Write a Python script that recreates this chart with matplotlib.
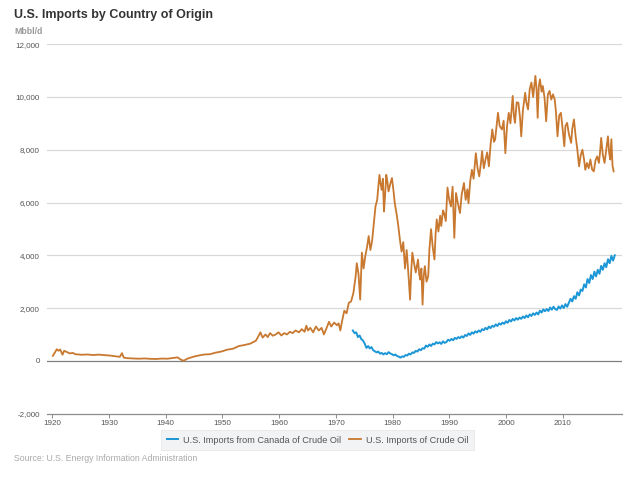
import matplotlib
matplotlib.use("Agg")
from matplotlib import pyplot as plt


plt.rcParams['font.family'] = ['Liberation Sans', 'DejaVu Sans']

ORANGE = '#c8782f'
BLUE = '#1b96d6'

# U.S. Imports of Crude Oil (year, Mbbl/d)
TOTAL_YEARS = [
    1920.1, 1920.5, 1920.8, 1921.1, 1921.4, 1921.8, 1922.1, 1922.6, 1923.1, 1923.6,
    1924.1, 1925.2, 1926.2, 1927.2, 1928.2, 1929.2, 1930.2, 1931.2, 1931.9, 1932.3,
    1932.6, 1933.2, 1934.2, 1935.2, 1936.3, 1937.3, 1938.3, 1939.3, 1940.3, 1941.3,
    1942.1, 1942.7, 1943.2, 1943.8, 1944.8, 1945.8, 1946.8, 1947.8, 1948.8, 1949.8,
    1950.8, 1951.9, 1952.9, 1953.9, 1954.9, 1955.9, 1956.4, 1956.7, 1957.1, 1957.6,
    1958.0, 1958.4, 1958.9, 1959.4, 1959.9, 1960.4, 1960.9, 1961.4, 1961.9, 1962.4,
    1962.9, 1963.5, 1964.0, 1964.5, 1964.8, 1965.1, 1965.5, 1966.0, 1966.5, 1967.0,
    1967.5, 1967.9, 1968.3, 1968.8, 1969.2, 1969.7, 1970.2, 1970.5, 1970.8, 1971.1,
    1971.5, 1971.9, 1972.3, 1972.7, 1973.1, 1973.5, 1973.7, 1974.0, 1974.3, 1974.6,
    1974.9, 1975.2, 1975.5, 1975.8, 1976.1, 1976.4, 1976.7, 1977.0, 1977.3, 1977.5,
    1977.7, 1977.9, 1978.1, 1978.3, 1978.5, 1978.7, 1978.9, 1979.1, 1979.3, 1979.6,
    1979.9, 1980.2, 1980.4, 1980.7, 1981.0, 1981.3, 1981.6, 1981.9, 1982.2, 1982.5,
    1982.8, 1983.1, 1983.3, 1983.5, 1983.8, 1984.1, 1984.5, 1984.7, 1984.9, 1985.1,
    1985.3, 1985.5, 1985.7, 1986.0, 1986.3, 1986.5, 1986.8, 1987.1, 1987.4, 1987.6,
    1987.8, 1988.1, 1988.4, 1988.6, 1988.9, 1989.1, 1989.4, 1989.7, 1990.0, 1990.3,
    1990.6, 1990.9, 1991.2, 1991.5, 1991.9, 1992.2, 1992.6, 1992.9, 1993.2, 1993.4,
    1993.7, 1994.0, 1994.3, 1994.7, 1995.0, 1995.3, 1995.6, 1995.8, 1996.1, 1996.4,
    1996.7, 1997.0, 1997.3, 1997.6, 1997.9, 1998.1, 1998.4, 1998.6, 1998.9, 1999.3,
    1999.6, 1999.9, 2000.2, 2000.5, 2000.8, 2001.2, 2001.4, 2001.6, 2001.9, 2002.2,
    2002.5, 2002.7, 2003.0, 2003.4, 2003.6, 2003.9, 2004.2, 2004.5, 2004.8, 2005.2,
    2005.4, 2005.6, 2005.8, 2006.0, 2006.3, 2006.5, 2006.8, 2007.1, 2007.4, 2007.7,
    2008.0, 2008.3, 2008.6, 2008.8, 2009.1, 2009.4, 2009.7, 2010.0, 2010.3, 2010.5,
    2010.8, 2011.1, 2011.5, 2011.7, 2012.0, 2012.3, 2012.6, 2012.9, 2013.2, 2013.5,
    2013.8, 2014.0, 2014.3, 2014.6, 2014.9, 2015.2, 2015.5, 2015.8, 2016.1, 2016.4,
    2016.6, 2016.8, 2017.1, 2017.4, 2017.7, 2018.0, 2018.2, 2018.4, 2018.6, 2018.8,
    2019.0,
]
TOTAL_VALUES = [
    190, 330, 440, 380, 430, 230, 380, 330, 280, 300,
    250, 230, 240, 220, 235, 215, 200, 170, 150, 290,
    120, 100, 90, 80, 90, 75, 70, 85, 80, 110,
    130, 40, 5, 80, 150, 200, 240, 250, 310, 350,
    420, 460, 560, 600, 650, 760, 950, 1080, 880, 1000,
    900, 1050, 950, 1000, 1080, 960, 1050, 1000, 1100, 1050,
    1150, 1080, 1200, 1100, 1330, 1150, 1250, 1080, 1300, 1150,
    1250, 1000, 1200, 1480, 1300, 1450, 1350, 1420, 1150, 1500,
    1900, 1800, 2200, 2250, 2570, 3200, 3700, 3300, 2320, 4100,
    3500, 3970, 4300, 4730, 4200, 4540, 5200, 5850, 6100, 6600,
    7050, 6700, 6480, 6900, 5660, 6300, 7050, 6800, 6420, 6700,
    6930, 6400, 5970, 5600, 5150, 4600, 4140, 4500, 3500, 4200,
    3300, 2320, 3400, 4100, 3700, 3350, 3840, 3300, 3080, 3500,
    2130, 3200, 3590, 3000, 3210, 4200, 4990, 4300, 3840, 4800,
    5360, 4900, 5500, 5110, 5700, 5600, 5300, 6570, 6100, 5850,
    6600, 4660, 6360, 6000, 5600, 6300, 6740, 6100, 6500, 5970,
    6800, 7240, 6900, 7870, 7300, 6990, 7500, 7950, 7300, 7630,
    7900, 7370, 8200, 8770, 8300, 8390, 9000, 9400, 8900, 8770,
    9100, 7870, 8900, 9400, 9000, 10040, 9300, 9020, 9800, 9780,
    9200, 8510, 9500, 10160, 9800, 9530, 10300, 10550, 10000, 10800,
    10300, 9210, 10400, 10670, 10200, 10420, 10000, 9080, 10100, 10230,
    9900, 10100, 9910, 9500, 8510, 9300, 9400, 8800, 8130, 8900,
    9020, 8600, 8260, 8800, 9150, 8500, 8000, 7370, 7800, 8000,
    7600, 7240, 7500, 7300, 7630, 7250, 7180, 7600, 7750, 7500,
    7900, 8450, 7800, 7500, 8000, 8510, 7900, 7630, 8400, 7400,
    7180,
]

# U.S. Imports from Canada of Crude Oil (year, Mbbl/d)
CANADA_YEARS = [
    1973.0, 1973.3, 1973.6, 1973.9, 1974.2, 1974.5, 1974.8, 1975.1, 1975.4, 1975.7,
    1976.0, 1976.3, 1976.6, 1976.9, 1977.2, 1977.5, 1977.8, 1978.1, 1978.4, 1978.7,
    1979.0, 1979.3, 1979.6, 1979.9, 1980.2, 1980.5, 1980.8, 1981.1, 1981.4, 1981.7,
    1982.0, 1982.3, 1982.6, 1982.9, 1983.2, 1983.5, 1983.8, 1984.1, 1984.4, 1984.7,
    1985.0, 1985.3, 1985.6, 1985.9, 1986.2, 1986.5, 1986.8, 1987.1, 1987.4, 1987.7,
    1988.0, 1988.3, 1988.6, 1988.9, 1989.2, 1989.5, 1989.8, 1990.1, 1990.4, 1990.7,
    1991.0, 1991.3, 1991.6, 1991.9, 1992.2, 1992.5, 1992.8, 1993.1, 1993.4, 1993.7,
    1994.0, 1994.3, 1994.6, 1994.9, 1995.2, 1995.5, 1995.8, 1996.1, 1996.4, 1996.7,
    1997.0, 1997.3, 1997.6, 1997.9, 1998.2, 1998.5, 1998.8, 1999.1, 1999.4, 1999.7,
    2000.0, 2000.3, 2000.6, 2000.9, 2001.2, 2001.5, 2001.8, 2002.1, 2002.4, 2002.7,
    2003.0, 2003.3, 2003.6, 2003.9, 2004.2, 2004.5, 2004.8, 2005.1, 2005.4, 2005.7,
    2006.0, 2006.3, 2006.6, 2006.9, 2007.2, 2007.5, 2007.8, 2008.1, 2008.4, 2008.7,
    2009.0, 2009.3, 2009.6, 2009.9, 2010.2, 2010.5, 2010.8, 2011.1, 2011.4, 2011.7,
    2012.0, 2012.3, 2012.6, 2012.9, 2013.2, 2013.5, 2013.8, 2014.1, 2014.4, 2014.7,
    2015.0, 2015.3, 2015.6, 2015.9, 2016.2, 2016.5, 2016.8, 2017.1, 2017.4, 2017.7,
    2018.0, 2018.3, 2018.6, 2018.9, 2019.2,
]
CANADA_VALUES = [
    1150, 1050, 1080, 900, 960, 820, 770, 650, 490, 560,
    470, 520, 400, 360, 320, 350, 270, 300, 240, 290,
    250, 330, 280, 250, 210, 240, 180, 160, 120, 170,
    150, 220, 200, 270, 240, 320, 300, 380, 350, 440,
    400, 480, 460, 580, 530, 620, 560, 650, 620, 710,
    660, 700, 640, 740, 680, 710, 800, 760, 830, 780,
    870, 830, 900, 860, 930, 880, 980, 940, 1040, 980,
    1080, 1030, 1120, 1070, 1150, 1100, 1200, 1160, 1250, 1190,
    1300, 1240, 1330, 1290, 1380, 1320, 1420, 1370, 1450, 1400,
    1500, 1440, 1550, 1490, 1590, 1530, 1620, 1560, 1640, 1590,
    1680, 1620, 1720, 1650, 1760, 1700, 1800, 1740, 1830, 1760,
    1900, 1830, 1950, 1880, 1960, 1890, 2020, 1940, 2050, 1960,
    1930, 2060, 1980, 2100, 2000, 2150, 2050, 2200, 2350, 2250,
    2450, 2350, 2600, 2480, 2700, 2650, 2900, 2780, 3100, 2950,
    3250, 3100, 3380, 3200, 3450, 3300, 3600, 3450, 3700, 3550,
    3850, 3700, 3980, 3800, 4000,
]

Y_TICKS = [-2000, 0, 2000, 4000, 6000, 8000, 10000, 12000]
X_TICKS = [1920, 1930, 1940, 1950, 1960, 1970, 1980, 1990, 2000, 2010]


def plot_chart():
    fig = plt.figure(figsize=(6.4, 4.86), dpi=100)
    ax = fig.add_axes([0.0739, 0.149, 0.8975, 0.76])

    ax.set_xlim(1919.12, 2020.42)
    ax.set_ylim(-2000, 12000)

    for v in Y_TICKS[2:]:
        ax.axhline(v, color='#d9d9d9', lw=0.9, zorder=0)
    ax.axhline(0, color='#808080', lw=0.9, zorder=1)

    ax.plot(CANADA_YEARS, CANADA_VALUES, color=BLUE, lw=1.4, zorder=3,
            label='U.S. Imports from Canada of Crude Oil')
    ax.plot(TOTAL_YEARS, TOTAL_VALUES, color=ORANGE, lw=1.3, zorder=3,
            label='U.S. Imports of Crude Oil')

    for side in ['top', 'right', 'left']:
        ax.spines[side].set_visible(False)
    ax.spines['bottom'].set_color('#8c8c8c')
    ax.spines['bottom'].set_linewidth(0.9)

    ax.set_yticks(Y_TICKS)
    ax.set_yticklabels([f'{v:,}' for v in Y_TICKS])
    ax.set_xticks(X_TICKS)
    ax.set_xticklabels([str(v) for v in X_TICKS])
    ax.tick_params(axis='y', length=0, pad=5.5, labelsize=5.8, labelcolor='#555555')
    ax.tick_params(axis='x', length=3, width=0.7, color='#8c8c8c', pad=1.5,
                   labelsize=5.8, labelcolor='#555555')

    fig.text(14 / 640, 1 - 17.7 / 486, 'U.S. Imports by Country of Origin',
             fontsize=9, fontweight='bold', color='#333333', va='baseline')
    fig.text(14 / 640, 1 - 34.3 / 486, 'Mbbl/d', fontsize=6.3, fontweight='bold',
             color='#999999', va='baseline')
    fig.text(14 / 640, 1 - 461 / 486, 'Source: U.S. Energy Information Administration',
             fontsize=6.3, color='#aaaaaa', va='baseline')

    leg = fig.legend(loc='center', bbox_to_anchor=(317.5 / 640, 1 - 440 / 486), ncol=2,
                     fontsize=6.6, frameon=True, fancybox=False, handlelength=1.3,
                     handletextpad=0.5, columnspacing=0.9, borderpad=0.6)
    leg.get_frame().set_facecolor('#eef0f2')
    leg.get_frame().set_edgecolor('#e2e4e7')
    leg.get_frame().set_linewidth(0.6)
    for text in leg.get_texts():
        text.set_color('#555555')

    fig.savefig('out.png', dpi=100)


if __name__ == "__main__":
    plot_chart()
